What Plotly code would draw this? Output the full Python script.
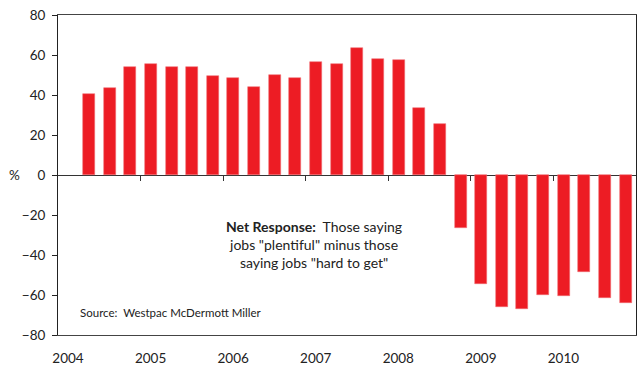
import plotly.graph_objects as go

quarters = ["2004Q2", "2004Q3", "2004Q4",
            "2005Q1", "2005Q2", "2005Q3", "2005Q4",
            "2006Q1", "2006Q2", "2006Q3", "2006Q4",
            "2007Q1", "2007Q2", "2007Q3", "2007Q4",
            "2008Q1", "2008Q2", "2008Q3", "2008Q4",
            "2009Q1", "2009Q2", "2009Q3", "2009Q4",
            "2010Q1", "2010Q2", "2010Q3", "2010Q4"]
net_response = [40.7, 43.5, 54.0, 55.5, 54.0, 54.0, 49.3,
                48.7, 44.2, 49.8, 48.7, 56.7, 55.5, 63.3,
                57.8, 57.3, 33.3, 25.3, -26.5, -54.3, -65.8,
                -66.8, -60.2, -60.6, -48.7, -61.7, -64.0]
year_ticks = [2004, 2005, 2006, 2007, 2008, 2009, 2010]
y_ticks = [-80, -60, -40, -20, 0, 20, 40, 60, 80]

# quarter label -> decimal year at the centre of the quarter
x_pos = [int(q[:4]) + (int(q[-1]) - 0.5) / 4 for q in quarters]

FONT = "Lato"
RED = "#ED1C24"

fig = go.Figure()
fig.add_trace(go.Bar(
    x=x_pos, y=net_response, width=0.145,
    marker=dict(color=RED, line=dict(color="rgba(240,110,115,0.9)", width=0.6)),
    showlegend=False, hoverinfo="skip", xaxis="x", yaxis="y",
))
# invisible trace to activate the secondary x axis (tick marks on the zero line)
fig.add_trace(go.Scatter(x=[2004, 2011], y=[0, 0], mode="lines",
                         line=dict(width=0), xaxis="x2", yaxis="y",
                         showlegend=False, hoverinfo="skip"))

fig.update_layout(
    width=637, height=367,
    margin=dict(l=58, r=1, t=15, b=32, autoexpand=False),
    paper_bgcolor="white", plot_bgcolor="white",
    font=dict(family=FONT, size=13, color="#222"),
    bargap=0,
    xaxis=dict(
        range=[2004, 2011], tickvals=year_ticks, ticktext=[str(y) for y in year_ticks],
        ticks="", showgrid=False, zeroline=False,
        showline=True, linecolor="#444", linewidth=1, mirror=True,
        ticklabelshift=10, ticklabelstandoff=11,
        tickfont=dict(family=FONT, size=13.5, color="#222"),
    ),
    xaxis2=dict(
        range=[2004, 2011], overlaying="x", anchor="free", position=0.5,
        tickvals=year_ticks[1:], ticks="outside", ticklen=5, tickcolor="#333",
        showticklabels=False, showgrid=False, zeroline=False, showline=False,
    ),
    yaxis=dict(
        range=[-80, 80], tickvals=y_ticks, ticks="outside", ticklen=5,
        tickcolor="#222", showgrid=False,
        zeroline=True, zerolinecolor="#333", zerolinewidth=1,
        showline=True, linecolor="#222", linewidth=1, mirror=True,
        ticklabelstandoff=4,
        tickfont=dict(family=FONT, size=13.5, color="#222"),
    ),
    annotations=[
        dict(text="%", x=-0.075, y=0, xref="paper", yref="y", showarrow=False,
             xanchor="center", yanchor="middle", font=dict(size=13.5)),
        dict(text="<b>Net Response:</b>  Those saying<br>jobs \"plentiful\" minus those<br>saying jobs \"hard to get\"",
             x=2007.1, y=-34.5, xref="x", yref="y", showarrow=False, align="center",
             xanchor="center", yanchor="middle", font=dict(size=14, color="#222")),
        dict(text="Source:  Westpac McDermott Miller", x=2004.24, y=-68.5,
             xref="x", yref="y", showarrow=False, xanchor="left", yanchor="middle",
             font=dict(size=11.5, color="#222")),
    ],
)

fig.write_html("out.html", config={"displayModeBar": False},
               post_script="document.body.style.margin='0';")
